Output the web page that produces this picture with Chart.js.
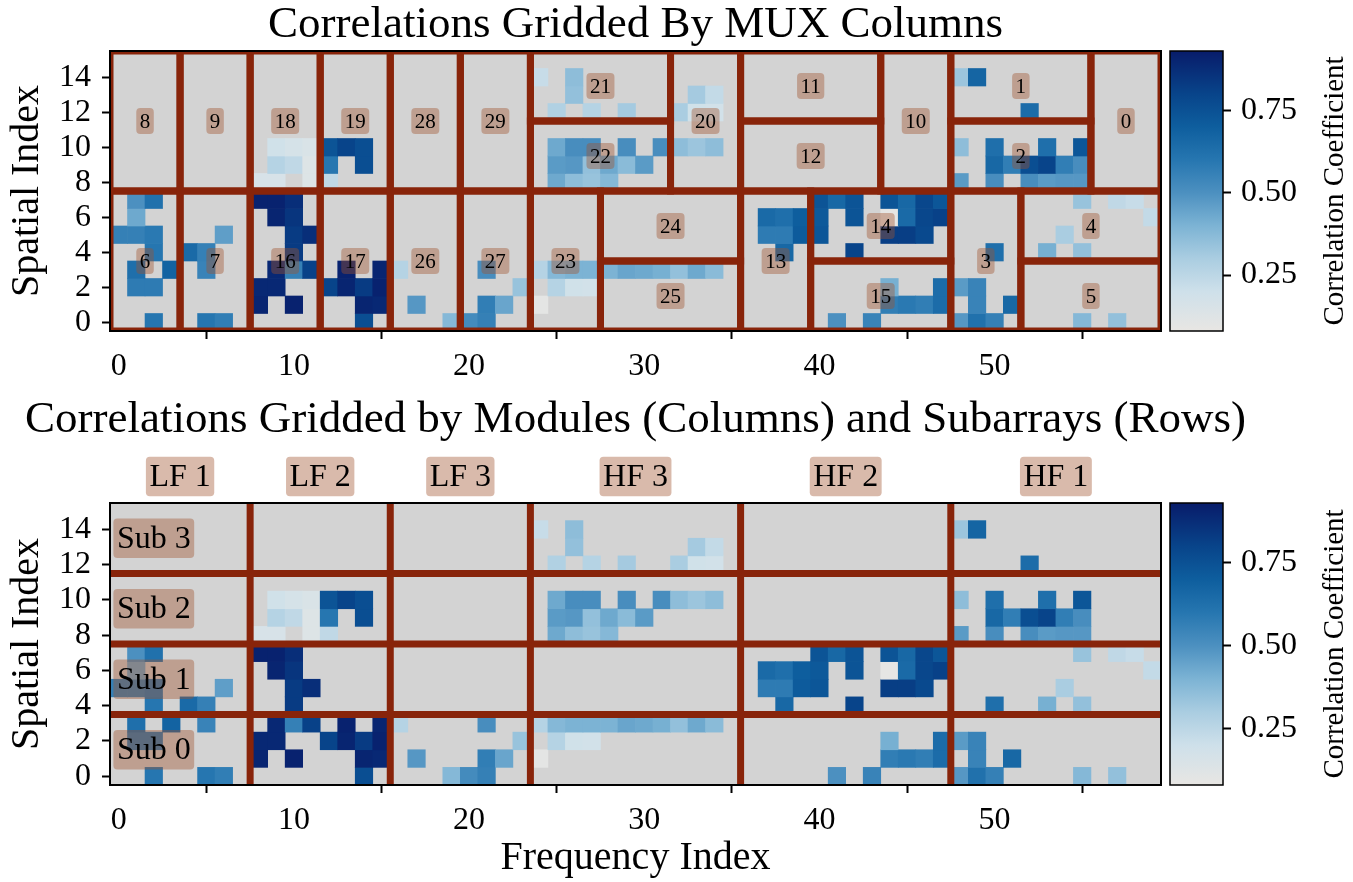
<!DOCTYPE html>
<html>
<head>
<meta charset="utf-8">
<script src="https://cdn.jsdelivr.net/npm/chart.js@4.4.1/dist/chart.umd.min.js"></script>
<style>
  html, body { margin: 0; padding: 0; background: #ffffff; width: 1353px; height: 882px; overflow: hidden; }
  canvas { position: absolute; }
</style>
</head>
<body>
<canvas id="muxHeat" width="1353" height="390" style="left:0px;top:0px"></canvas>
<canvas id="muxBar" width="188" height="390" style="left:1165px;top:0px"></canvas>
<canvas id="moduleHeat" width="1353" height="492" style="left:0px;top:390px"></canvas>
<canvas id="moduleBar" width="188" height="492" style="left:1165px;top:390px"></canvas>
<script>
// ---------------- data ----------------
const frequencyTicks = [0, 10, 20, 30, 40, 50];
const spatialTicks = [0, 2, 4, 6, 8, 10, 12, 14];
const colorbarTicks = [0.25, 0.50, 0.75];
const colorbarTickLabels = ['0.25', '0.50', '0.75'];
const corrMin = 0.08;
const corrMax = 0.93;

// correlation coefficient per spatial row: [frequency index, coefficient]
const spatial00 = [[2,0.60],[5,0.60],[6,0.57],[14,0.76],[19,0.38],[20,0.52],[21,0.56],[41,0.50],[43,0.55],[48,0.48],[49,0.62],[50,0.56],[55,0.38],[57,0.35]];
const spatial01 = [[8,0.90],[10,0.91],[14,0.90],[15,0.89],[17,0.48],[21,0.57],[22,0.44],[24,0.10],[44,0.57],[45,0.59],[46,0.57],[47,0.64],[49,0.55],[51,0.66]];
const spatial02 = [[1,0.58],[2,0.58],[8,0.89],[9,0.89],[12,0.80],[13,0.90],[14,0.83],[15,0.91],[23,0.34],[25,0.27],[26,0.19],[27,0.18],[44,0.41],[47,0.64],[48,0.47],[49,0.55]];
const spatial03 = [[1,0.63],[3,0.68],[5,0.55],[9,0.89],[10,0.56],[11,0.81],[13,0.91],[15,0.90],[16,0.27],[21,0.51],[24,0.27],[25,0.38],[26,0.40],[27,0.40],[28,0.40],[29,0.44],[30,0.43],[31,0.41],[32,0.35],[33,0.43],[34,0.37]];
const spatial04 = [[2,0.60],[4,0.65],[5,0.56],[10,0.83],[38,0.66],[42,0.80],[50,0.63],[53,0.41],[55,0.35]];
const spatial05 = [[0,0.56],[1,0.56],[2,0.59],[6,0.46],[10,0.83],[11,0.87],[37,0.58],[38,0.58],[39,0.71],[40,0.73],[44,0.82],[45,0.82],[46,0.78],[54,0.30]];
const spatial06 = [[1,0.43],[9,0.90],[10,0.85],[37,0.65],[38,0.63],[39,0.70],[40,0.72],[42,0.74],[44,0.09],[45,0.65],[46,0.79],[47,0.81],[59,0.23]];
const spatial07 = [[1,0.50],[2,0.62],[8,0.91],[9,0.91],[10,0.87],[40,0.74],[41,0.66],[42,0.74],[44,0.74],[45,0.66],[46,0.79],[47,0.73],[55,0.34],[57,0.24],[58,0.22]];
const spatial08 = [[8,0.16],[9,0.16],[11,0.13],[12,0.24],[25,0.43],[26,0.36],[27,0.34],[28,0.38],[48,0.47],[50,0.51],[52,0.51],[53,0.47],[54,0.48],[55,0.48]];
const spatial09 = [[9,0.27],[10,0.24],[11,0.13],[12,0.60],[14,0.76],[25,0.47],[26,0.48],[27,0.35],[28,0.43],[29,0.37],[30,0.47],[50,0.66],[51,0.57],[52,0.76],[53,0.80],[54,0.57],[55,0.51]];
const spatial10 = [[9,0.19],[10,0.17],[11,0.15],[12,0.74],[13,0.80],[14,0.76],[25,0.43],[26,0.51],[27,0.51],[29,0.51],[31,0.51],[32,0.36],[33,0.33],[34,0.36],[48,0.36],[50,0.63],[53,0.63],[55,0.73]];
const spatial11 = [];
const spatial12 = [[25,0.28],[27,0.27],[29,0.31],[32,0.30],[33,0.19],[34,0.18],[52,0.64]];
const spatial13 = [[26,0.35],[33,0.31],[34,0.23]];
const spatial14 = [[24,0.22],[26,0.36],[48,0.33],[49,0.67]];
const spatial15 = [];
const spatialRows = [spatial00, spatial01, spatial02, spatial03, spatial04, spatial05, spatial06, spatial07,
                     spatial08, spatial09, spatial10, spatial11, spatial12, spatial13, spatial14, spatial15];

// MUX column groups: [mux id, first frequency, last frequency, first spatial, last spatial]
const muxGroups = [
  [8, 0, 3, 8, 15], [9, 4, 7, 8, 15], [18, 8, 11, 8, 15], [19, 12, 15, 8, 15],
  [28, 16, 19, 8, 15], [29, 20, 23, 8, 15], [21, 24, 31, 12, 15], [22, 24, 31, 8, 11],
  [20, 32, 35, 8, 15], [11, 36, 43, 12, 15], [12, 36, 43, 8, 11], [10, 44, 47, 8, 15],
  [1, 48, 55, 12, 15], [2, 48, 55, 8, 11], [0, 56, 59, 8, 15],
  [6, 0, 3, 0, 7], [7, 4, 7, 0, 7], [16, 8, 11, 0, 7], [17, 12, 15, 0, 7],
  [26, 16, 19, 0, 7], [27, 20, 23, 0, 7], [23, 24, 27, 0, 7], [24, 28, 35, 4, 7],
  [25, 28, 35, 0, 3], [13, 36, 39, 0, 7], [14, 40, 47, 4, 7], [15, 40, 47, 0, 3],
  [3, 48, 51, 0, 7], [4, 52, 59, 4, 7], [5, 52, 59, 0, 3]
];

// modules along frequency, subarrays along space
const moduleNames = ['LF 1', 'LF 2', 'LF 3', 'HF 3', 'HF 2', 'HF 1'];
const moduleEdges = [-0.5, 7.5, 15.5, 23.5, 35.5, 47.5, 59.5];
const subarrayNames = ['Sub 0', 'Sub 1', 'Sub 2', 'Sub 3'];
const subarrayEdges = [-0.5, 3.5, 7.5, 11.5, 15.5];

// ---------------- styling ----------------
const serif = '"Liberation Serif", "Times New Roman", Times, serif';
const missingGray = '#d3d3d3';
const edgeColor = '#88240a';
const tagFill = 'rgba(160, 82, 45, 0.4)';
const tickFontSize = 32;
const cmapStops = [
  [0.08, [232, 230, 227]],
  [0.20, [206, 224, 234]],
  [0.30, [170, 205, 225]],
  [0.40, [124, 179, 212]],
  [0.50, [76, 144, 192]],
  [0.60, [38, 118, 176]],
  [0.70, [14, 94, 158]],
  [0.80, [8, 68, 138]],
  [0.93, [8, 28, 106]]
];

Chart.defaults.font.family = serif;
Chart.defaults.color = '#000';

function corrColor(v) {
  const lo = cmapStops[0][0], hi = cmapStops[cmapStops.length - 1][0];
  const t = Math.min(Math.max(v, lo), hi);
  for (let i = 1; i < cmapStops.length; i++) {
    if (t <= cmapStops[i][0]) {
      const [v0, c0] = cmapStops[i - 1];
      const [v1, c1] = cmapStops[i];
      const f = (t - v0) / (v1 - v0);
      return 'rgb(' + c0.map((c, k) => Math.round(c + (c1[k] - c) * f)).join(',') + ')';
    }
  }
  return 'rgb(' + cmapStops[cmapStops.length - 1][1].join(',') + ')';
}

// every measured cell becomes a floating bar one frequency wide and one spatial row tall
const cells = [];
spatialRows.forEach((row, r) => {
  row.forEach(([f, v]) => cells.push({ x: f, y: [r - 0.5, r + 0.5], v: v }));
});

function roundedBox(ctx, x, y, w, h, r) {
  ctx.beginPath();
  ctx.moveTo(x + r, y);
  ctx.lineTo(x + w - r, y);
  ctx.quadraticCurveTo(x + w, y, x + w, y + r);
  ctx.lineTo(x + w, y + h - r);
  ctx.quadraticCurveTo(x + w, y + h, x + w - r, y + h);
  ctx.lineTo(x + r, y + h);
  ctx.quadraticCurveTo(x, y + h, x, y + h - r);
  ctx.lineTo(x, y + r);
  ctx.quadraticCurveTo(x, y, x + r, y);
  ctx.closePath();
}

function tag(ctx, text, cx, cy, size) {
  ctx.save();
  ctx.font = size + 'px ' + serif;
  const w = ctx.measureText(text).width + 7;
  const h = size * 1.2 + 1;
  roundedBox(ctx, cx - w / 2, cy - h / 2, w, h, 4);
  ctx.fillStyle = tagFill;
  ctx.fill();
  ctx.fillStyle = '#000';
  ctx.textAlign = 'center';
  ctx.textBaseline = 'middle';
  ctx.fillText(text, cx, cy + 1);
  ctx.restore();
}

function drawFrame(chart) {
  const { ctx, chartArea: a } = chart;
  ctx.save();
  ctx.strokeStyle = '#000';
  ctx.lineWidth = 2;
  ctx.strokeRect(a.left, a.top, a.right - a.left, a.bottom - a.top);
  ctx.restore();
}

function clipArea(chart) {
  const { ctx, chartArea: a } = chart;
  ctx.beginPath();
  ctx.rect(a.left, a.top, a.right - a.left, a.bottom - a.top);
  ctx.clip();
}

const grayBackdrop = {
  id: 'grayBackdrop',
  beforeDatasetsDraw(chart) {
    const { ctx, chartArea: a } = chart;
    ctx.save();
    ctx.fillStyle = missingGray;
    ctx.fillRect(a.left, a.top, a.right - a.left, a.bottom - a.top);
    ctx.restore();
  }
};

// panel heading, centred over the plotting area
function headingPlugin(text, baseline) {
  return {
    id: 'panelHeading',
    afterDraw(chart) {
      const { ctx, chartArea: a } = chart;
      ctx.save();
      ctx.font = '45px ' + serif;
      ctx.fillStyle = '#000';
      ctx.textAlign = 'center';
      ctx.textBaseline = 'alphabetic';
      ctx.fillText(text, (a.left + a.right) / 2, baseline);
      ctx.restore();
    }
  };
}

const muxOverlay = {
  id: 'muxOverlay',
  afterDatasetsDraw(chart) {
    const { ctx, scales: { x, y } } = chart;
    ctx.save();
    clipArea(chart);
    ctx.strokeStyle = edgeColor;
    ctx.lineWidth = 7;
    muxGroups.forEach(([id, f0, f1, s0, s1]) => {
      const x0 = x.getPixelForValue(f0 - 0.5), x1 = x.getPixelForValue(f1 + 0.5);
      const y0 = y.getPixelForValue(s1 + 0.5), y1 = y.getPixelForValue(s0 - 0.5);
      ctx.strokeRect(x0, y0, x1 - x0, y1 - y0);
    });
    ctx.restore();
    muxGroups.forEach(([id, f0, f1, s0, s1]) => {
      tag(ctx, String(id), x.getPixelForValue((f0 + f1) / 2), y.getPixelForValue((s0 + s1) / 2), 21);
    });
    drawFrame(chart);
  }
};

const moduleOverlay = {
  id: 'moduleOverlay',
  afterDatasetsDraw(chart) {
    const { ctx, chartArea: a, scales: { x, y } } = chart;
    ctx.save();
    clipArea(chart);
    ctx.strokeStyle = edgeColor;
    ctx.lineWidth = 7;
    moduleEdges.slice(1, -1).forEach(e => {
      const px = x.getPixelForValue(e);
      ctx.beginPath(); ctx.moveTo(px, a.top); ctx.lineTo(px, a.bottom); ctx.stroke();
    });
    subarrayEdges.slice(1, -1).forEach(e => {
      const py = y.getPixelForValue(e);
      ctx.beginPath(); ctx.moveTo(a.left, py); ctx.lineTo(a.right, py); ctx.stroke();
    });
    ctx.restore();
    subarrayNames.forEach((name, i) => {
      tag(ctx, name, x.getPixelForValue(2), y.getPixelForValue((subarrayEdges[i] + subarrayEdges[i + 1]) / 2), 32);
    });
    moduleNames.forEach((name, i) => {
      tag(ctx, name, x.getPixelForValue((moduleEdges[i] + moduleEdges[i + 1]) / 2), y.getPixelForValue(17), 32);
    });
    drawFrame(chart);
  }
};

function heatmap(canvasId, titleText, titleBaseline, topPad, xAxisHeight, xTitle, overlay) {
  return new Chart(document.getElementById(canvasId), {
    type: 'bar',
    data: {
      datasets: [{
        data: cells,
        backgroundColor: c => (c.raw ? corrColor(c.raw.v) : 'rgba(0,0,0,0)'),
        borderWidth: 0,
        barPercentage: 1,
        categoryPercentage: 1
      }]
    },
    options: {
      responsive: false,
      devicePixelRatio: 1,
      animation: false,
      events: [],
      layout: { padding: { left: 0, right: 192, top: topPad, bottom: 0 } },
      plugins: {
        legend: { display: false },
        tooltip: { enabled: false },
        title: { display: false }
      },
      scales: {
        x: {
          type: 'linear',
          min: -0.5,
          max: 59.5,
          offset: false,
          afterBuildTicks: s => { s.ticks = frequencyTicks.map(v => ({ value: v })); },
          afterFit: s => { s.height = xAxisHeight; },
          ticks: { font: { size: tickFontSize }, color: '#000', padding: 8, maxRotation: 0, autoSkip: false, callback: v => String(v) },
          grid: { display: true, drawOnChartArea: false, drawTicks: true, tickLength: 8, tickWidth: 2, tickColor: '#000' },
          border: { display: false },
          title: {
            display: !!xTitle,
            text: xTitle || '',
            color: '#000',
            font: { size: 40, lineHeight: 1.2 },
            padding: { top: 0, bottom: 0 }
          }
        },
        y: {
          type: 'linear',
          min: -0.5,
          max: 15.5,
          afterBuildTicks: s => { s.ticks = spatialTicks.map(v => ({ value: v })); },
          afterFit: s => { s.width = 110; },
          ticks: { font: { size: tickFontSize }, color: '#000', padding: 11, autoSkip: false, callback: v => String(v) },
          grid: { display: true, drawOnChartArea: false, drawTicks: true, tickLength: 8, tickWidth: 2, tickColor: '#000' },
          border: { display: false },
          title: {
            display: true,
            text: 'Spatial Index',
            color: '#000',
            font: { size: 40, lineHeight: 1.2 },
            padding: { top: 3, bottom: 0 }
          }
        }
      }
    },
    plugins: [grayBackdrop, overlay, headingPlugin(titleText, titleBaseline)]
  });
}

const colorbarOverlay = {
  id: 'colorbarOverlay',
  afterDraw(chart) {
    const { ctx, chartArea: a, scales: { y } } = chart;
    const grad = ctx.createLinearGradient(0, y.getPixelForValue(corrMin), 0, y.getPixelForValue(corrMax));
    cmapStops.forEach(([v]) => {
      grad.addColorStop((v - corrMin) / (corrMax - corrMin), corrColor(v));
    });
    ctx.save();
    ctx.fillStyle = grad;
    ctx.fillRect(a.left, a.top, a.right - a.left, a.bottom - a.top);
    ctx.strokeStyle = '#000';
    ctx.lineWidth = 1.5;
    ctx.strokeRect(a.left, a.top, a.right - a.left, a.bottom - a.top);
    ctx.translate(178, (a.top + a.bottom) / 2);
    ctx.rotate(-Math.PI / 2);
    ctx.font = '29px ' + serif;
    ctx.fillStyle = '#000';
    ctx.textAlign = 'center';
    ctx.textBaseline = 'alphabetic';
    ctx.fillText('Correlation Coefficient', 0, 0);
    ctx.restore();
  }
};

function colorbar(canvasId, top, bottom) {
  return new Chart(document.getElementById(canvasId), {
    type: 'bar',
    data: { labels: [], datasets: [] },
    options: {
      responsive: false,
      devicePixelRatio: 1,
      animation: false,
      events: [],
      layout: { padding: { left: 5, right: 0, top: top, bottom: bottom } },
      plugins: { legend: { display: false }, tooltip: { enabled: false } },
      scales: {
        x: { display: false },
        y: {
          type: 'linear',
          position: 'right',
          min: corrMin,
          max: corrMax,
          afterBuildTicks: s => { s.ticks = colorbarTicks.map(v => ({ value: v })); },
          afterFit: s => { s.width = 130; },
          ticks: {
            font: { size: tickFontSize }, color: '#000', padding: 10, autoSkip: false,
            callback: v => colorbarTickLabels[colorbarTicks.indexOf(v)]
          },
          grid: { display: true, drawOnChartArea: false, drawTicks: true, tickLength: 8, tickWidth: 2, tickColor: '#000' },
          border: { display: false }
        }
      }
    },
    plugins: [colorbarOverlay]
  });
}

heatmap('muxHeat', 'Correlations Gridded By MUX Columns', 37, 51, 59, null, muxOverlay);
colorbar('muxBar', 51, 59);
heatmap('moduleHeat', 'Correlations Gridded by Modules (Columns) and Subarrays (Rows)', 42, 113, 97, 'Frequency Index', moduleOverlay);
colorbar('moduleBar', 113, 97);
</script>
</body>
</html>
